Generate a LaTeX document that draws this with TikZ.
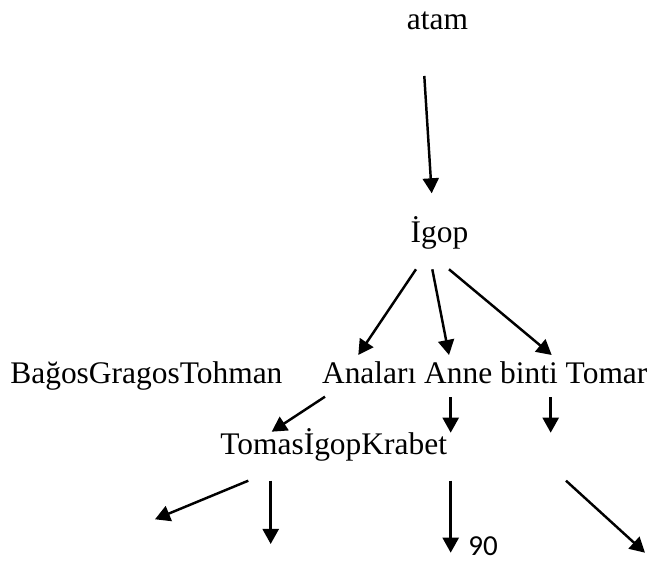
\documentclass[tikz,border=0pt]{standalone}
\usepackage{fontspec}
\setmainfont{Liberation Serif}
\newfontfamily\numfont{Carlito}
\usepackage{tikz}
\usetikzlibrary{arrows.meta}
\usetikzlibrary{positioning}

\begin{document}
\begin{tikzpicture}[x=0.02cm, y=-0.02cm,
    lbl/.style={inner sep=0pt, font=\fontsize{17.9}{20}\selectfont},
    arr/.style={line width=1.4pt, -{Triangle[length=0.3cm, width=0.32cm]}}]
    \useasboundingbox (0, 0) rectangle (654, 564);

    \node [lbl, anchor=base] (atam) at (437.5, 30) {atam};
    \node [lbl, anchor=base] (igop) at (439.5, 243) {İgop};
    \node [lbl, anchor=base west] (bagos) at (10, 384) {BağosGragosTohman};
    \node [lbl, anchor=base west] (analari) at (321.7, 384) {Anaları Anne binti Tomar};
    \node [lbl, anchor=base west] (tomas) at (220, 455) {TomasİgopKrabet};
    \node [inner sep=0pt, anchor=base west, font=\numfont\fontsize{16.5}{18}\selectfont] (ninety) at (468, 556) {90};

    \coordinate (atamS) at (424.3, 76);
    \coordinate (igopN) at (431.7, 193.3);
    \coordinate (igopL) at (416, 269.3);
    \coordinate (igopM) at (432.3, 269.3);
    \coordinate (igopR) at (449, 269.3);
    \coordinate (anaN) at (358.3, 355);
    \coordinate (anneN) at (449, 355);
    \coordinate (bintiN) at (551.7, 355);
    \coordinate (anaS) at (325, 396.7);
    \coordinate (tomasN) at (271.7, 431.7);
    \coordinate (anneS) at (450.7, 397.3);
    \coordinate (anneE) at (450.7, 432.7);
    \coordinate (tomarS) at (550.7, 397.3);
    \coordinate (tomarE) at (550.7, 432.7);
    \coordinate (tomasL) at (248.3, 480.7);
    \coordinate (leftE) at (155, 519.3);
    \coordinate (tomasM) at (270.7, 480.7);
    \coordinate (midE) at (270.7, 544);
    \coordinate (tomasR) at (450.7, 480.7);
    \coordinate (ninetyE) at (450.7, 552.7);
    \coordinate (farS) at (566, 480.7);
    \coordinate (farE) at (645, 552.7);

    \draw [arr] (atamS) -- (igopN);
    \draw [arr] (igopL) -- (anaN);
    \draw [arr] (igopM) -- (anneN);
    \draw [arr] (igopR) -- (bintiN);
    \draw [arr] (anaS) -- (tomasN);
    \draw [arr] (anneS) -- (anneE);
    \draw [arr] (tomarS) -- (tomarE);
    \draw [arr] (tomasL) -- (leftE);
    \draw [arr] (tomasM) -- (midE);
    \draw [arr] (tomasR) -- (ninetyE);
    \draw [arr] (farS) -- (farE);
\end{tikzpicture}
\end{document}
